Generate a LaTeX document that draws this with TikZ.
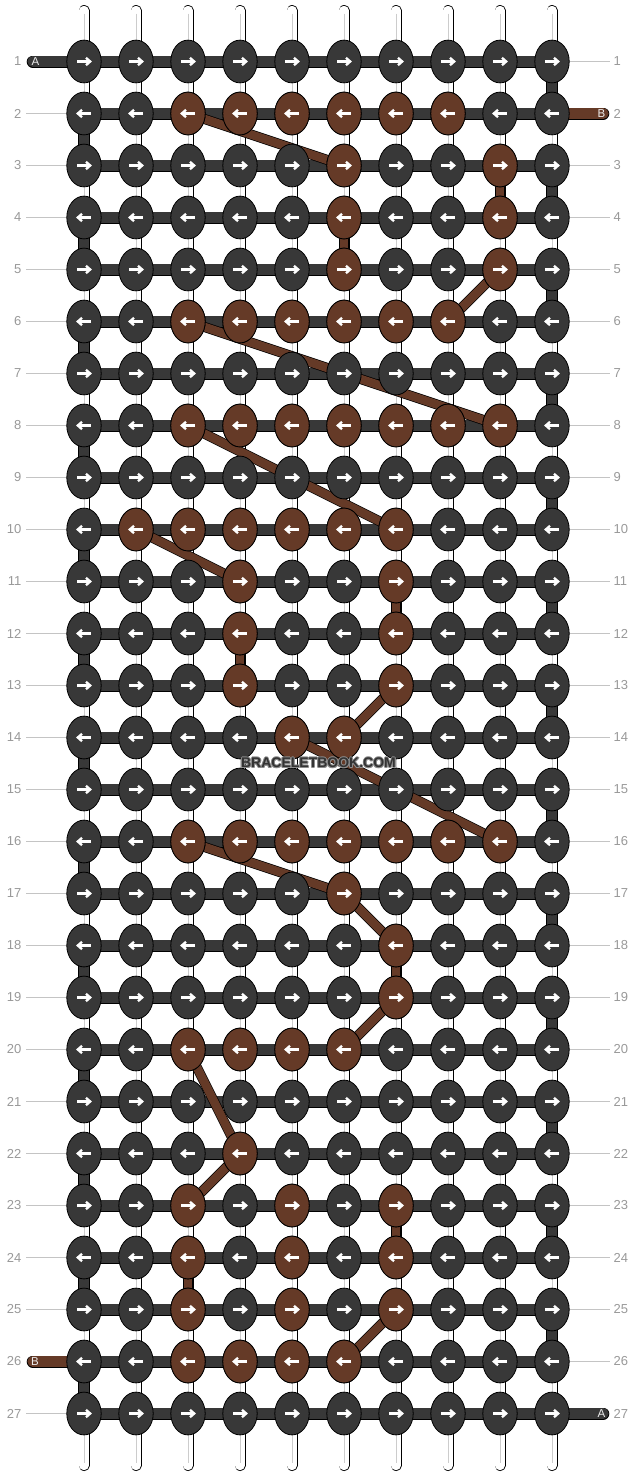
\documentclass[tikz,border=0pt]{standalone}
\usepackage{fontspec}
\setmainfont{Liberation Sans}
\usetikzlibrary{shapes.geometric}
\definecolor{dk}{HTML}{383838}
\definecolor{bn}{HTML}{653A27}
\definecolor{numc}{HTML}{999999}
\definecolor{glc}{HTML}{C4C4C4}
\definecolor{wpc}{HTML}{CCCCCC}
\definecolor{wmc}{HTML}{333333}
\pgfdeclarelayer{bg}
\pgfdeclarelayer{warp}
\pgfdeclarelayer{strings}
\pgfsetlayers{bg,warp,strings,main}
\tikzset{
  knot/.style={ellipse, draw=black, line width=0.8pt, fill=dk, minimum width=34.4pt,
    minimum height=42.8pt, inner sep=0pt, outer sep=0pt},
  bar/.style={draw=black, line width=0.7pt, double=dk, double distance=10.6pt},
  bbar/.style={draw=black, line width=0.7pt, double=bn, double distance=10.6pt},
  bstr/.style={draw=black, line width=0.7pt, double=bn, double distance=8.6pt},
  warpline/.style={draw=black, line width=0.8pt, double=white, double distance=9.4pt, line cap=round},
  warpmid/.style={draw=wpc, line width=1pt},
  gline/.style={draw=glc, line width=1pt},
  numl/.style={inner sep=0pt, text=numc, font=\fontsize{13}{13}\selectfont},
  stubtxt/.style={inner sep=0pt, text=white!92!black, font=\fontsize{11.5}{11.5}\selectfont},
  arw/.style={draw=white, line width=2.3pt, line cap=butt, line join=miter},
  rarr/.pic={\draw[arw] (-6.8,0) -- (6,0); \draw[arw] (2,-3.7) -- (6.2,0) -- (2,3.7);},
  larr/.pic={\draw[arw] (6.8,0) -- (-6,0); \draw[arw] (-2,-3.7) -- (-6.2,0) -- (-2,3.7);},
  wmtxt/.style={inner sep=0pt, font=\bfseries\fontsize{14}{14}\selectfont},
}
\begin{document}
\begin{tikzpicture}[x=1pt,y=-1pt]
\useasboundingbox (0,0) rectangle (636,1476);
\begin{pgfonlayer}{bg}
  \fill[white] (0,0) rectangle (636,1476);
\end{pgfonlayer}

% knots
\foreach \r in {1,...,27}{
  \foreach \c in {1,...,10}{
    \node[knot] (k\r-\c) at ({84+52*(\c-1)},{61.5+52*(\r-1)}) {};
  }
}
% brown knots
\foreach \r/\cs in {2/{3,4,5,6,7,8},3/{6,9},4/{6,9},5/{6,9},6/{3,4,5,6,7,8},
  8/{3,4,5,6,7,8,9},10/{2,3,4,5,6,7},11/{4,7},12/{4,7},13/{4,7},14/{5,6},
  16/{3,4,5,6,7,8,9},17/{6},18/{7},19/{7},20/{3,4,5,6},22/{4},23/{3,5,7},
  24/{3,5,7},25/{3,5,7},26/{3,4,5,6}}{
  \foreach \c in \cs {
    \filldraw[fill=bn, draw=black, line width=0.8pt] (k\r-\c.center) ellipse [x radius=17.2pt, y radius=21.4pt];
  }
}
% arrows
\foreach \r in {1,...,27}{
  \foreach \c in {1,...,10}{
    \ifodd\r\relax \pic at (k\r-\c.center) {rarr};\else \pic at (k\r-\c.center) {larr};\fi
  }
}

% warps
\begin{pgfonlayer}{warp}
  \foreach \c in {1,...,10}{
    \coordinate (wt\c) at ({84+52*(\c-1)},10.5);
    \coordinate (wb\c) at ({84+52*(\c-1)},1465.5);
    \draw[warpline] (wt\c) -- (wb\c);
    \draw[warpmid] ([yshift=-3pt]wt\c) -- ([yshift=3pt]wb\c);
  }
  % row numbers
  \foreach \r in {1,...,27}{
    \node[numl, anchor=east] (nl\r) at (21.5,{61.5+52*(\r-1)}) {\r};
    \node[numl, anchor=west] (nr\r) at (613.5,{61.5+52*(\r-1)}) {\r};
  }
  \foreach \r in {2,...,25,27}{
    \draw[gline] ([xshift=4.5pt]nl\r.east) -- (k\r-1.west);
  }
  \foreach \r in {1,3,4,...,26}{
    \draw[gline] (k\r-10.east) -- ([xshift=-4pt]nr\r.west);
  }
\end{pgfonlayer}

% strings
\begin{pgfonlayer}{strings}
  \coordinate (sA1) at (32.7,61.5);
  \coordinate (sB2) at (603.3,113.5);
  \coordinate (sB26) at (32.7,1361.5);
  \coordinate (sA27) at (603.3,1413.5);
  \foreach \r in {1,...,27}{
    \draw[bar] (k\r-1.center) -- (k\r-10.center);
  }
  \draw[bar, line cap=round] (sA1) -- (k1-1.center);
  \draw[bar, line cap=round] (k27-10.center) -- (sA27);
  \draw[bbar, line cap=round] (k2-10.center) -- (sB2);
  \draw[bbar, line cap=round] (sB26) -- (k26-1.center);
  \foreach \a in {2,4,...,26}{
    \pgfmathtruncatemacro\b{\a+1}
    \draw[bar] (k\a-1.center) -- (k\b-1.center);
  }
  \foreach \a in {1,3,...,25}{
    \pgfmathtruncatemacro\b{\a+1}
    \draw[bar] (k\a-10.center) -- (k\b-10.center);
  }
  % brown verticals and diagonals
  \foreach \p/\q in {3-9/4-9, 4-6/5-6, 11-7/12-7, 12-4/13-4, 18-7/19-7, 23-7/24-7, 24-3/25-3,
    2-3/3-6, 5-9/6-8, 6-3/8-9, 8-3/10-7, 10-2/11-4, 13-7/14-6, 14-5/16-9,
    16-3/17-6, 17-6/18-7, 19-7/20-6, 20-3/22-4, 22-4/23-3, 25-7/26-6}{
    \draw[bstr] (k\p.center) -- (k\q.center);
  }
\end{pgfonlayer}

% stub labels
\node[stubtxt] (tA1) at (35.5,61.5) {A};
\node[stubtxt] (tB2) at (601.5,113.5) {B};
\node[stubtxt] (tB26) at (35,1361.5) {B};
\node[stubtxt] (tA27) at (601.5,1413.5) {A};

% watermark
\foreach \dx/\dy [count=\i] in {0.9/0,-0.9/0,0/0.9,0/-0.9,0.7/0.7,-0.7/0.7,0.7/-0.7,-0.7/-0.7}{
  \node[wmtxt, text=black!45] (wmh\i) at ({318.5+\dx},{763+\dy}) {BRACELETBOOK.COM};
}
\node[wmtxt, text=wmc] (wm) at (318.5,763) {BRACELETBOOK.COM};
\end{tikzpicture}
\end{document}
